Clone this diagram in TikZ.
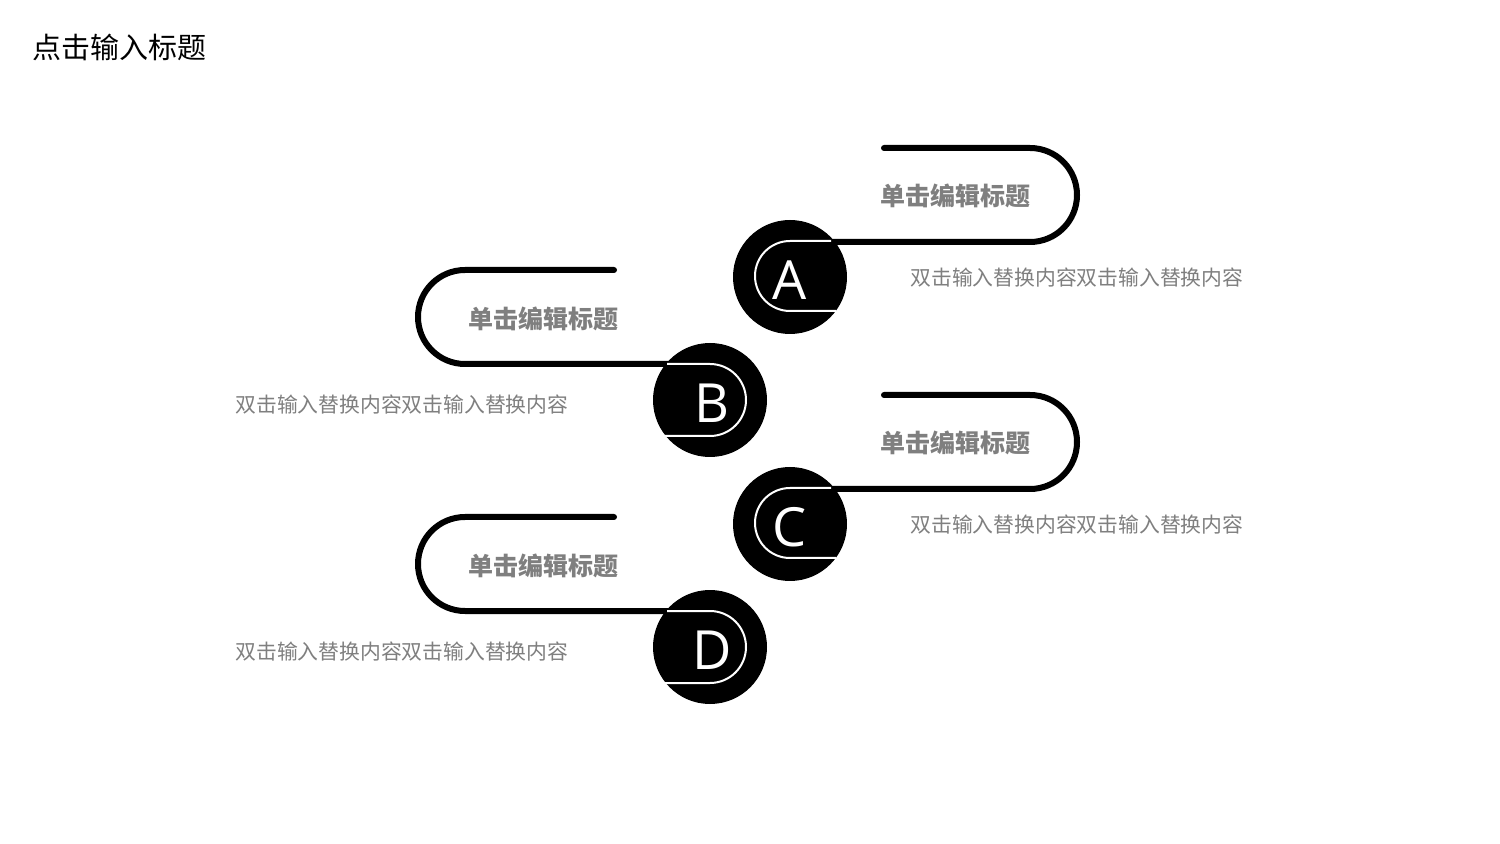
\documentclass[tikz,border=0pt]{standalone}
\usepackage{fontspec}
\newfontfamily\cjk{Noto Sans CJK SC}
\newfontfamily\latin{Open Sans}
\definecolor{txtgray}{HTML}{7F7F7F}
\begin{document}
\begin{tikzpicture}[x=0.5pt,y=-0.5pt,
  track/.style={line width=3pt,line cap=round,black},
  wline/.style={line width=1pt,white},
  circ/.style={circle,fill=black,minimum size=57pt,inner sep=0pt},
  letter/.style={text=white,inner sep=0pt,font=\latin\fontsize{27}{30}\selectfont},
  ttl/.style={font=\cjk\bfseries\fontsize{12.5}{14}\selectfont,text=txtgray,inner sep=0pt},
  desc/.style={font=\cjk\fontsize{10.4}{12}\selectfont,text=txtgray,inner sep=0pt,anchor=west},
  head/.style={font=\cjk\fontsize{14.5}{16}\selectfont,text=black,inner sep=0pt,anchor=west}]
\useasboundingbox[fill=white] (0,0) rectangle (1500,844);
\node[head] (hd) at (32,47) {点击输入标题};
% A and C (right side)
\foreach \n/\L/\dy in {a/A/0,c/C/247}{
  \coordinate (\n s) at (884,148+\dy);
  \coordinate (\n e) at (800,242+\dy);
  \draw[track] (\n s) -- (1030,148+\dy) arc[start angle=-90,end angle=90,radius=47] -- (\n e);
  \node[circ] (\n) at (790,277+\dy) {};
  \draw[wline] (831,241+\dy) -- (790,241+\dy) arc[start angle=-90,end angle=-270,radius=35] -- (836,311+\dy);
  \node[letter] (\n l) at (790,280+\dy) {\L};
  \node[ttl] (\n t) at (955,196+\dy) {单击编辑标题};
  \node[desc] (\n d) at (910,278+\dy) {双击输入替换内容双击输入替换内容};
}
% B and D (left side)
\foreach \n/\L/\dy in {b/B/0,d/D/247}{
  \coordinate (\n s) at (614,270+\dy);
  \coordinate (\n e) at (700,364+\dy);
  \draw[track] (\n s) -- (465,270+\dy) arc[start angle=-90,end angle=-270,radius=47] -- (\n e);
  \node[circ] (\n) at (710,400+\dy) {};
  \draw[wline] (667,364+\dy) -- (710,364+\dy) arc[start angle=-90,end angle=90,radius=36] -- (664,436+\dy);
  \node[letter] (\n l) at (712,403+\dy) {\L};
  \node[ttl] (\n t) at (543,319+\dy) {单击编辑标题};
  \node[desc] (\n d) at (235,405+\dy) {双击输入替换内容双击输入替换内容};
}
\end{tikzpicture}
\end{document}
